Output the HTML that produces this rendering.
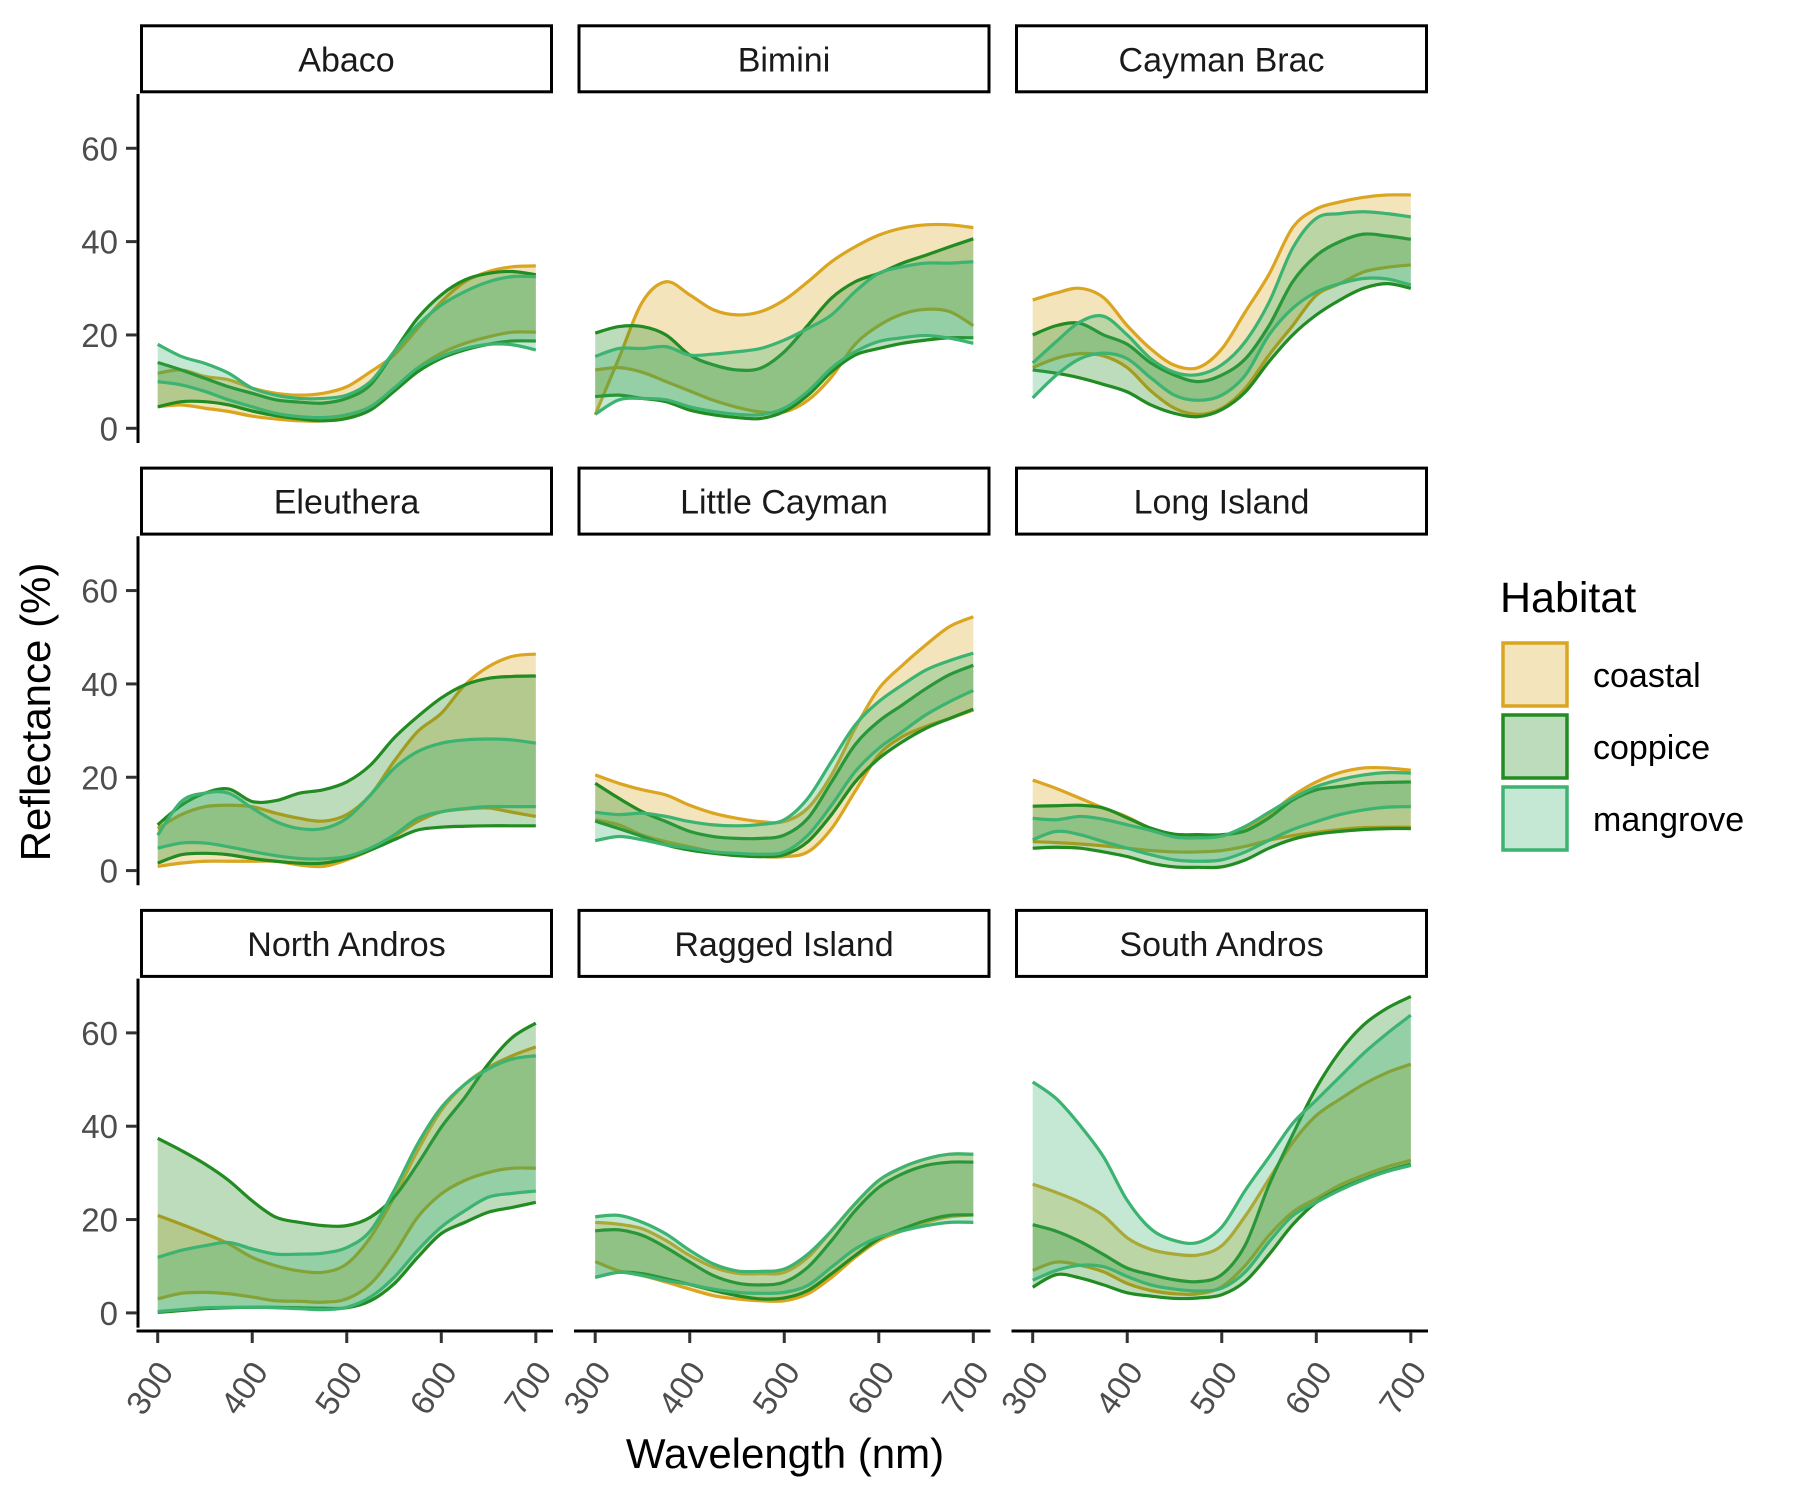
<!DOCTYPE html>
<html><head><meta charset="utf-8"><style>
html,body{margin:0;padding:0;background:#fff;}
svg{display:block;font-family:"Liberation Sans",Arial,sans-serif;}
</style></head><body>
<svg id="chart" width="1800" height="1500" viewBox="0 0 1800 1500" xmlns="http://www.w3.org/2000/svg">
<rect width="1800" height="1500" fill="#fff"/>
<g id="panels"></g>
<g id="axes"></g>
<text x="50" y="712" font-size="42" fill="#000" text-anchor="middle" transform="rotate(-90 50 712)">Reflectance (%)</text>
<text x="785" y="1468" font-size="42" fill="#000" text-anchor="middle">Wavelength (nm)</text>
<g>
<text x="1500" y="612" font-size="43" fill="#000">Habitat</text>
<g><rect x="1503" y="643" width="64" height="63" fill="rgba(218,165,32,0.3)" stroke="#DAA520" stroke-width="3.5"/><text x="1593" y="687" font-size="34" fill="#000">coastal</text></g>
<g><rect x="1503" y="715" width="64" height="63" fill="rgba(34,139,34,0.3)" stroke="#228B22" stroke-width="3.5"/><text x="1593" y="759" font-size="34" fill="#000">coppice</text></g>
<g><rect x="1503" y="787" width="64" height="63" fill="rgba(60,179,113,0.3)" stroke="#3CB371" stroke-width="3.5"/><text x="1593" y="831" font-size="34" fill="#000">mangrove</text></g>
</g>
</svg>
<script>
const wavelengths = [300,325,350,375,400,425,450,475,500,525,550,575,600,625,650,675,700];
const islands = ["Abaco","Bimini","Cayman Brac","Eleuthera","Little Cayman","Long Island","North Andros","Ragged Island","South Andros"];
const yTicks = [0,20,40,60];
const xTicks = [300,400,500,600,700];

const abacoCoastalHi = [11.8,12.5,11.1,10.4,8.6,7.5,7.1,7.5,8.9,12.1,15.7,21.4,27.1,31.4,33.6,34.6,34.8];
const abacoCoastalLo = [4.6,5,4.3,3.6,2.6,2,1.6,1.6,2.3,4.3,8.2,12.9,16.1,18.2,19.6,20.6,20.6];
const abacoCoppiceHi = [14.1,12.5,10.7,8.9,7.5,6.1,5.6,5.4,6.4,9.3,16.4,23.6,28.6,31.8,33.2,33.6,32.9];
const abacoCoppiceLo = [4.6,5.7,5.7,5,3.7,2.7,2,1.6,2.1,3.9,7.9,12.1,15,16.8,18,18.7,18.7];
const abacoMangroveHi = [18,15.4,13.9,11.8,8.6,7.1,6.4,6.4,7.1,10,16.4,22.1,26.4,29.3,31.4,32.5,32.5];
const abacoMangroveLo = [10,9.3,7.9,6.1,4.6,3.2,2.5,2.3,2.9,4.6,8.6,12.9,15.4,17.1,18,17.9,16.8];

const biminiCoastalHi = [2.9,15,27.1,31.4,28.6,25.4,24.3,25,27.5,31.4,35.7,38.9,41.4,42.9,43.6,43.6,43];
const biminiCoastalLo = [12.5,13,12,10,8,6,4.5,3.5,3.5,6,11,18,22,24.5,25.5,25,22];
const biminiCoppiceHi = [20.4,21.8,21.8,20,15.7,13.6,12.5,12.9,16.4,22.1,27.9,31.4,33.2,35.4,37.1,38.9,40.6];
const biminiCoppiceLo = [6.8,7.1,6.4,5.7,3.9,2.9,2.3,2.1,3.6,7.1,12.1,15.7,17.1,18.2,18.9,19.4,19.4];
const biminiMangroveHi = [15.4,17.1,17.1,17.5,15.7,15.9,16.4,17.1,18.9,21.4,24.3,29.3,33.2,34.6,35.4,35.4,35.7];
const biminiMangroveLo = [3,6.1,6.4,6.1,4.6,3.6,3,2.9,4.3,7.9,12.9,16.4,18.6,19.4,19.9,19.3,18.2];

const caymanBracCoastalHi = [27.5,29,30,28,22,17,13.5,13,17,25,33,43,47,48.5,49.5,50,50];
const caymanBracCoastalLo = [13,15,16,15.5,13,8,4.3,3,4.3,8.6,15.7,22,28.5,31,33.5,34.5,35];
const caymanBracCoppiceHi = [20,22,22.5,20,18,14,11.4,10,11.4,14.9,22,31.4,37,40,41.6,41.2,40.5];
const caymanBracCoppiceLo = [12.5,11.8,10.8,9.4,7.8,5,3.2,2.5,4,7.8,14.3,20,24.3,27.5,30,31,30];
const caymanBracMangroveHi = [14,18.6,22.8,24,20,14.9,12,11.5,13.6,18.6,27,38.6,45,46,46.4,46,45.3];
const caymanBracMangroveLo = [6.5,11.4,14.9,16.1,14.9,10.8,7.1,6,7.1,11.4,20,25.7,29.2,31,32.1,32,30.7];

const eleutheraCoastalHi = [9,12,13.7,14,13.7,12.3,11.2,10.6,12,16.2,23.4,29.8,33.7,39.8,43.7,45.9,46.4];
const eleutheraCoastalLo = [0.9,1.6,2,2,2,2,1.2,0.9,2.3,4.4,7.3,10.5,12.6,13.2,13.4,12.5,11.6];
const eleutheraCoppiceHi = [9.8,14,16.6,17.5,14.8,15,16.6,17.3,19,22.6,28.4,33,37,39.8,41.2,41.6,41.7];
const eleutheraCoppiceLo = [1.6,3.4,3.7,3.4,2.6,2,1.6,1.6,2.6,4.4,6.6,8.7,9.3,9.5,9.6,9.6,9.6];
const eleutheraMangroveHi = [7.6,14.8,16.6,16.6,13.4,10.5,9,9,11.2,16.2,21.9,25.5,27.3,28,28.2,28,27.3];
const eleutheraMangroveLo = [4.8,5.9,5.9,5.1,4.1,3.2,2.6,2.5,3,4.8,7.6,11.2,12.6,13.3,13.7,13.7,13.7];

const littleCaymanCoastalHi = [20.5,18.7,17.3,16.2,14,12.3,11.2,10.5,10.5,13.4,20.5,30.5,39,44,48.4,52.3,54.4];
const littleCaymanCoastalLo = [10.9,9.8,7.6,6.2,5.1,4,3.4,3,3,4,9,17,24.8,28.7,30.9,32.6,34.4];
const littleCaymanCoppiceHi = [18.7,15.5,12.6,10.5,8.4,7.3,6.9,6.9,7.6,11.2,19,27,32,35.5,39,42,44];
const littleCaymanCoppiceLo = [10.6,9,7.3,5.5,4.4,3.7,3.2,3,3.4,6.2,12,19,24,27.6,30.5,32.6,34.6];
const littleCaymanMangroveHi = [12.5,12,12.3,11.6,10.5,9.8,9.6,9.9,10.9,15.5,23.4,31.2,36.2,39.8,43,45,46.6];
const littleCaymanMangroveLo = [6.4,7.3,6.6,5.5,4.8,4,3.7,3.5,4,7.6,14,21.2,26.2,29.8,33.4,36.2,38.6];

const longIslandCoastalHi = [19.4,17.6,15.5,13.4,11.5,9,7.5,7.5,7.5,9,12,16,19,21,22,22,21.5];
const longIslandCoastalLo = [6.2,6,5.7,5.3,4.8,4.3,4,4,4.3,5.2,6.5,7.5,8.2,8.8,9.2,9.3,9.3];
const longIslandCoppiceHi = [13.8,13.9,14,13.4,11.3,9.1,7.8,7.7,7.7,8.5,11.3,15.1,17.3,18,18.7,18.9,19];
const longIslandCoppiceLo = [4.8,5,4.8,4,3,1.6,0.8,0.7,0.8,2.3,4.8,6.7,7.8,8.4,8.8,9,9];
const longIslandMangroveHi = [11.2,10.9,11.6,11,9.8,8.6,7.2,7,7.4,9.5,12.5,15.5,18,19.5,20.5,21,20.9];
const longIslandMangroveLo = [6.6,8.4,7.7,6.2,4.8,3.4,2.3,2,2.3,4,6.5,8.8,10.5,12,13,13.6,13.7];

const northAndrosCoastalHi = [20.9,19,17,14.8,11.9,10.1,9,8.7,10.5,16.2,24.8,34.8,43.4,49,52.6,55.1,57];
const northAndrosCoastalLo = [3,4.2,4.4,4.1,3.4,2.6,2.5,2.3,3,6.2,12.6,20.5,25.5,28.4,30.1,31,31];
const northAndrosCoppiceHi = [37.4,34.8,31.9,28.4,24,20.5,19.4,18.7,18.7,20.5,24.8,31.9,39.8,46.2,53.4,59,62.1];
const northAndrosCoppiceLo = [0.1,0.5,0.9,1.1,1.2,1.2,1.1,1,1.1,2.6,6.2,11.9,17,19.4,21.6,22.6,23.7];
const northAndrosMangroveHi = [11.9,13.4,14.4,15.1,13.7,12.6,12.6,12.8,14,17.6,26.2,36.2,44,49,52.3,54.4,55.1];
const northAndrosMangroveLo = [0.3,0.7,1.1,1.2,1.2,1.1,0.9,0.7,1.2,3.4,7.6,13.4,18.4,21.9,24.8,25.6,26.1];

const raggedIslandCoastalHi = [19.4,19,18,15.5,12.3,9.8,8.5,8.4,8.7,11.9,17.6,23.4,28.4,31.2,33,34,34];
const raggedIslandCoastalLo = [11,9,8,6.6,5.1,3.7,3,2.6,2.6,4.1,7.6,11.9,15.5,17.6,19.4,20.6,21];
const raggedIslandCoppiceHi = [17.6,17.8,16.6,14,10.9,8,6.4,6,6.6,9.8,15.5,21.9,26.9,29.8,31.6,32.3,32.3];
const raggedIslandCoppiceLo = [7.6,8.7,8.4,7.3,6.1,4.8,3.7,3,3.2,4.8,8.4,12.3,15.9,18,19.8,20.9,21];
const raggedIslandMangroveHi = [20.6,20.9,19.4,16.9,13.4,10.5,9,8.9,9.4,12.6,17.6,23.4,28.4,31.2,33,34,34];
const raggedIslandMangroveLo = [7.6,8.7,8,6.9,6.1,5.1,4.4,4.2,4.4,5.9,9.8,13.7,16.2,17.6,18.7,19.4,19.4];

const southAndrosCoastalHi = [27.6,25.8,23.7,20.8,16.1,13.6,12.6,12.4,14.4,20.8,28.7,36.5,42.3,45.8,49,51.5,53.3];
const southAndrosCoastalLo = [9.1,10.9,10.2,8.8,6.3,4.8,4.1,4.1,5.6,10.2,16.6,21.6,24.5,27.4,29.5,31.3,32.7];
const southAndrosCoppiceHi = [18.9,17.5,15.3,12.5,9.6,8.2,7.1,6.7,8.2,14.6,27.4,38.2,48.2,56,61.7,65.3,67.8];
const southAndrosCoppiceLo = [5.5,8.2,7.5,6,4.3,3.6,3.1,3.2,3.9,6.8,12.5,18.9,23.7,26.6,28.7,30.5,31.9];
const southAndrosMangroveHi = [49.5,45.9,40.2,33.4,24.1,18,15.5,15.1,18.4,26.3,33.4,40.6,45.6,50.6,55.6,59.9,63.8];
const southAndrosMangroveLo = [7,9.1,10.2,9.9,7.8,6,5.1,4.7,5.3,8.8,15.2,20.8,23.7,26.3,28.5,30.3,31.6];

const panelSeries = [
  [[abacoCoastalHi,abacoCoastalLo],[abacoCoppiceHi,abacoCoppiceLo],[abacoMangroveHi,abacoMangroveLo]],
  [[biminiCoastalHi,biminiCoastalLo],[biminiCoppiceHi,biminiCoppiceLo],[biminiMangroveHi,biminiMangroveLo]],
  [[caymanBracCoastalHi,caymanBracCoastalLo],[caymanBracCoppiceHi,caymanBracCoppiceLo],[caymanBracMangroveHi,caymanBracMangroveLo]],
  [[eleutheraCoastalHi,eleutheraCoastalLo],[eleutheraCoppiceHi,eleutheraCoppiceLo],[eleutheraMangroveHi,eleutheraMangroveLo]],
  [[littleCaymanCoastalHi,littleCaymanCoastalLo],[littleCaymanCoppiceHi,littleCaymanCoppiceLo],[littleCaymanMangroveHi,littleCaymanMangroveLo]],
  [[longIslandCoastalHi,longIslandCoastalLo],[longIslandCoppiceHi,longIslandCoppiceLo],[longIslandMangroveHi,longIslandMangroveLo]],
  [[northAndrosCoastalHi,northAndrosCoastalLo],[northAndrosCoppiceHi,northAndrosCoppiceLo],[northAndrosMangroveHi,northAndrosMangroveLo]],
  [[raggedIslandCoastalHi,raggedIslandCoastalLo],[raggedIslandCoppiceHi,raggedIslandCoppiceLo],[raggedIslandMangroveHi,raggedIslandMangroveLo]],
  [[southAndrosCoastalHi,southAndrosCoastalLo],[southAndrosCoppiceHi,southAndrosCoppiceLo],[southAndrosMangroveHi,southAndrosMangroveLo]]
];
const habitats = ["coastal","coppice","mangrove"];
const lineColors = ["#DAA520","#228B22","#3CB371"];
const fillColors = ["rgba(218,165,32,0.3)","rgba(34,139,34,0.3)","rgba(60,179,113,0.3)"];

const NS = "http://www.w3.org/2000/svg";
const PANEL_W = 413, COL_STEP = 437.5, ROW_STEP = 442.3;
function panelLeft(c){ return 140 + c*COL_STEP; }
function xScale(c, w){ return panelLeft(c) + 17.7 + (w-300)*0.9453; }
function yScale(r, v){ return 428.3 + r*ROW_STEP - v*4.667; }
function mk(tag, attrs, parent){
  const el = document.createElementNS(NS, tag);
  for (const k in attrs) el.setAttribute(k, attrs[k]);
  parent.appendChild(el);
  return el;
}
function smoothPath(pts, move){
  let d = move ? `M${pts[0][0]},${pts[0][1]}` : `L${pts[0][0]},${pts[0][1]}`;
  for (let i=0;i<pts.length-1;i++){
    const p0 = pts[Math.max(0,i-1)], p1 = pts[i], p2 = pts[i+1], p3 = pts[Math.min(pts.length-1,i+2)];
    const c1x = p1[0]+(p2[0]-p0[0])/6, c1y = p1[1]+(p2[1]-p0[1])/6;
    const c2x = p2[0]-(p3[0]-p1[0])/6, c2y = p2[1]-(p3[1]-p1[1])/6;
    d += ` C${c1x.toFixed(2)},${c1y.toFixed(2)} ${c2x.toFixed(2)},${c2y.toFixed(2)} ${p2[0].toFixed(2)},${p2[1].toFixed(2)}`;
  }
  return d;
}

const panelsG = document.getElementById('panels');
const axesG = document.getElementById('axes');

islands.forEach((name, idx) => {
  const r = Math.floor(idx/3), c = idx%3;
  const x0 = panelLeft(c);
  const stripTop = 24.3 + r*ROW_STEP;
  const g = mk('g', {}, panelsG);
  
  
  const strip = mk('rect', {x:x0+1.5, y:stripTop+1.5, width:PANEL_W-3, height:66, fill:'#fff', stroke:'#000', 'stroke-width':3}, g);
  
  
  const st = mk('text', {x:x0+PANEL_W/2, y:stripTop+47, 'font-size':34, 'text-anchor':'middle', fill:'#1a1a1a'}, g);
  st.textContent = name;
  
  

  panelSeries[idx].forEach((pair, h) => {
    const hi = pair[0].map((v,i)=>[xScale(c, wavelengths[i]), yScale(r, v)]);
    const lo = pair[1].map((v,i)=>[xScale(c, wavelengths[i]), yScale(r, v)]);
    const loRev = lo.slice().reverse();
    const area = mk('path', {d: smoothPath(hi,true) + ' ' + smoothPath(loRev,false) + ' Z', fill: fillColors[h], stroke:'none'}, g);
    
    
    const l1 = mk('path', {d: smoothPath(hi,true), fill:'none', stroke: lineColors[h], 'stroke-width':3.2, 'stroke-linejoin':'round'}, g);
    
    
    const l2 = mk('path', {d: smoothPath(lo,true), fill:'none', stroke: lineColors[h], 'stroke-width':3.2, 'stroke-linejoin':'round'}, g);
    
    
  });

  if (c === 0){
    const top = 94 + r*ROW_STEP, bot = 443 + r*ROW_STEP;
    const ya = mk('line', {x1:138, y1:top, x2:138, y2:bot, stroke:'#000', 'stroke-width':3}, axesG);
    
    
    yTicks.forEach(t => {
      const y = yScale(r, t);
      const tk = mk('line', {x1:126, y1:y, x2:137, y2:y, stroke:'#333', 'stroke-width':3}, axesG);
      
      
      const tl = mk('text', {x:118, y:y+12, 'font-size':33, 'text-anchor':'end', fill:'#4d4d4d'}, axesG);
      tl.textContent = t;
      
      
    });
  }
  if (r === 2){
    const ay = 1331;
    const xa = mk('line', {x1:x0-3.5, y1:ay, x2:x0+PANEL_W, y2:ay, stroke:'#000', 'stroke-width':3}, axesG);
    
    
    xTicks.forEach(t => {
      const x = xScale(c, t);
      const tk = mk('line', {x1:x, y1:ay+1, x2:x, y2:ay+12, stroke:'#333', 'stroke-width':3}, axesG);
      
      
      const lx = x+17, ly = 1372;
      const tl = mk('text', {x:lx, y:ly, 'font-size':33, 'text-anchor':'end', fill:'#4d4d4d', transform:`rotate(-55 ${lx} ${ly})`}, axesG);
      tl.textContent = t;
      
      
    });
  }
});
</script>
</body></html>
